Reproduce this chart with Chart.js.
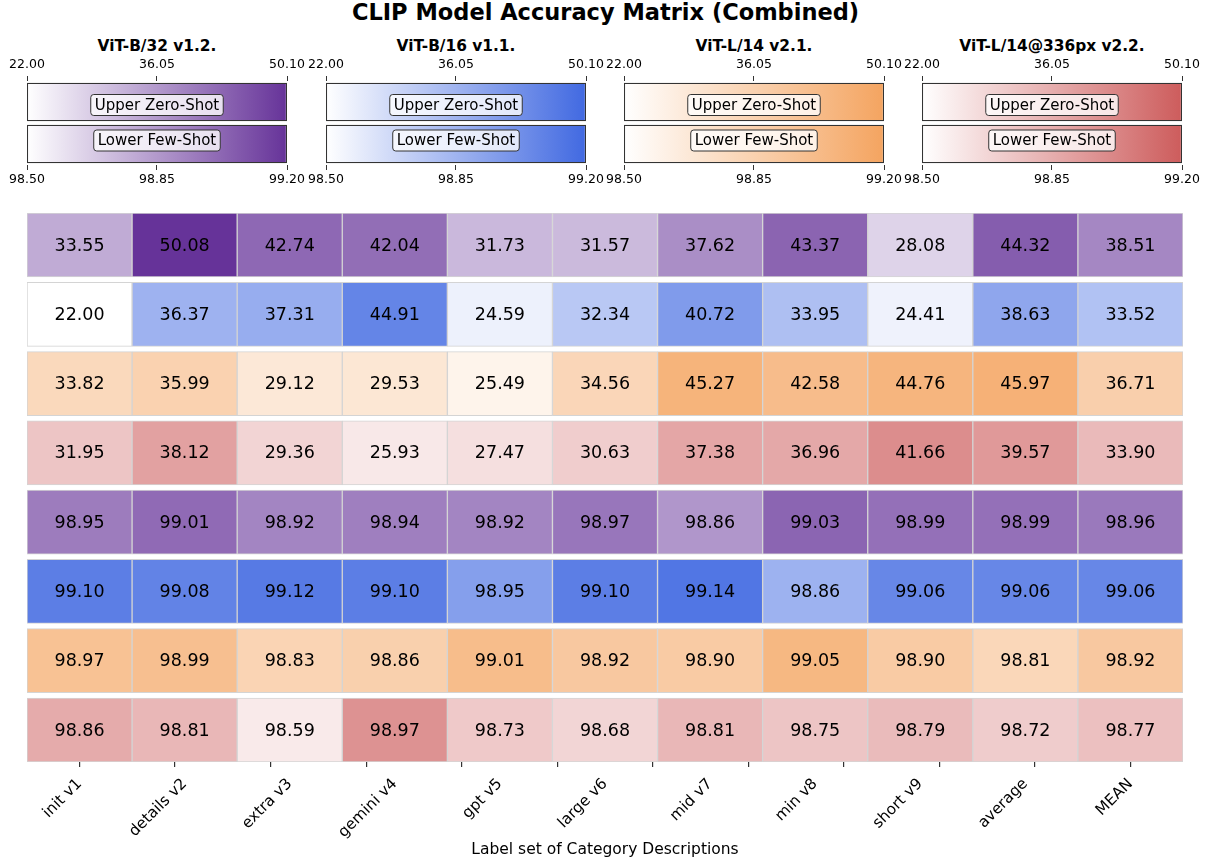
<!DOCTYPE html>
<html>
<head>
<meta charset="utf-8">
<script src="https://cdn.jsdelivr.net/npm/chart.js@4"></script>
<style>
  body { margin: 0; background: #fff; font-family: 'DejaVu Sans', sans-serif; }
  #page { position: relative; width: 1211px; height: 861px; overflow: hidden; }
  .title { position: absolute; left: 0; width: 1211px; top: -1px; text-align: center; font-weight: bold; font-size: 22.5px; }
  .cb-title { position: absolute; text-align: center; font-weight: bold; font-size: 15.4px; top: 37px; }
  canvas { position: absolute; }
</style>
</head>
<body>
<div id="page">
  <div class="title">CLIP Model Accuracy Matrix (Combined)</div>
</div>
<script>
// categories (x axis)
const columns = ['init v1', 'details v2', 'extra v3', 'gemini v4', 'gpt v5', 'large v6',
  'mid v7', 'min v8', 'short v9', 'average', 'MEAN'];

const models = ['ViT-B/32 v1.2.', 'ViT-B/16 v1.1.', 'ViT-L/14 v2.1.', 'ViT-L/14@336px v2.2.'];
const modelColors = ['#663399', '#4169E1', '#F4A460', '#CD5C5C'];

// zero-shot accuracy (upper rows)
const zeroB32 = [33.55, 50.08, 42.74, 42.04, 31.73, 31.57, 37.62, 43.37, 28.08, 44.32, 38.51];
const zeroB16 = [22.00, 36.37, 37.31, 44.91, 24.59, 32.34, 40.72, 33.95, 24.41, 38.63, 33.52];
const zeroL14 = [33.82, 35.99, 29.12, 29.53, 25.49, 34.56, 45.27, 42.58, 44.76, 45.97, 36.71];
const zeroL336 = [31.95, 38.12, 29.36, 25.93, 27.47, 30.63, 37.38, 36.96, 41.66, 39.57, 33.90];

// few-shot accuracy (lower rows)
const fewB32 = [98.95, 99.01, 98.92, 98.94, 98.92, 98.97, 98.86, 99.03, 98.99, 98.99, 98.96];
const fewB16 = [99.10, 99.08, 99.12, 99.10, 98.95, 99.10, 99.14, 98.86, 99.06, 99.06, 99.06];
const fewL14 = [98.97, 98.99, 98.83, 98.86, 99.01, 98.92, 98.90, 99.05, 98.90, 98.81, 98.92];
const fewL336 = [98.86, 98.81, 98.59, 98.97, 98.73, 98.68, 98.81, 98.75, 98.79, 98.72, 98.77];

// colorbar tick labels
const zeroShotTicks = [22.00, 36.05, 50.10];
const fewShotTicks = [98.50, 98.85, 99.20];
const colorbarLabels = ['Upper Zero-Shot', 'Lower Few-Shot'];

Chart.defaults.font.family = "'DejaVu Sans', sans-serif";
Chart.defaults.color = '#000';
Chart.defaults.animation = false;

const page = document.getElementById('page');

function hexToRgb(hex) {
  const n = parseInt(hex.slice(1), 16);
  return [(n >> 16) & 255, (n >> 8) & 255, n & 255];
}

// white -> model colour, linear
function cellColor(value, range, hex) {
  const lo = range[0], hi = range[range.length - 1];
  const t = Math.max(0, Math.min(1, (value - lo) / (hi - lo)));
  const c = hexToRgb(hex);
  const mix = c.map(v => Math.round(255 + (v - 255) * t));
  return `rgb(${mix[0]}, ${mix[1]}, ${mix[2]})`;
}

/* ---------- colorbars ---------- */
const barLefts = [27, 326, 624, 922];
const barWidth = 260;
const sidePad = 34;

const boxLabelPlugin = {
  id: 'boxLabels',
  afterDatasetsDraw(chart) {
    const ctx = chart.ctx;
    // labels sit slightly toward the gap between the two bars
    const nudge = [3, -3.5];
    ctx.save();
    ctx.font = "15px 'DejaVu Sans', sans-serif";
    ctx.textAlign = 'center';
    ctx.textBaseline = 'middle';
    chart.data.datasets.forEach((ds, i) => {
      const el = chart.getDatasetMeta(i).data[i];
      if (!el) return;
      const cx = (chart.chartArea.left + chart.chartArea.right) / 2;
      const cy = el.y + nudge[i];
      const w = ctx.measureText(colorbarLabels[i]).width + 8;
      const h = 21;
      ctx.beginPath();
      ctx.roundRect(cx - w / 2, cy - h / 2, w, h, 3);
      ctx.fillStyle = 'rgba(255,255,255,0.8)';
      ctx.fill();
      ctx.strokeStyle = '#333';
      ctx.lineWidth = 1;
      ctx.stroke();
      ctx.fillStyle = '#000';
      ctx.fillText(colorbarLabels[i], cx, cy + 1);
    });
    ctx.restore();
  }
};

models.forEach((name, m) => {
  const t = document.createElement('div');
  t.className = 'cb-title';
  t.style.left = (barLefts[m] - 40) + 'px';
  t.style.width = (barWidth + 80) + 'px';
  t.textContent = name;
  page.appendChild(t);

  const canvas = document.createElement('canvas');
  canvas.style.left = (barLefts[m] - sidePad) + 'px';
  canvas.style.top = '55px';
  canvas.width = barWidth + sidePad * 2;
  canvas.height = 135;
  canvas.style.width = canvas.width + 'px';
  canvas.style.height = canvas.height + 'px';
  page.appendChild(canvas);

  const gradient = (context) => {
    const area = context.chart.chartArea;
    if (!area) return modelColors[m];
    const g = context.chart.ctx.createLinearGradient(area.left, 0, area.right, 0);
    g.addColorStop(0, '#ffffff');
    g.addColorStop(1, modelColors[m]);
    return g;
  };

  const tickAxis = (position, ticks) => ({
    type: 'linear',
    position,
    min: ticks[0],
    max: ticks[ticks.length - 1],
    afterBuildTicks: (scale) => { scale.ticks = ticks.map(v => ({ value: v })); },
    afterFit: (scale) => { scale.height = position === 'top' ? 26 : 25; },
    ticks: {
      font: { size: 12.5 },
      padding: position === 'top' ? 4 : 2,
      maxRotation: 0,
      autoSkip: false,
      callback: (v) => Number(v).toFixed(2)
    },
    grid: { drawOnChartArea: false, drawTicks: true, tickLength: 5, color: '#333' },
    border: { display: false }
  });

  const barStyle = {
    backgroundColor: gradient,
    borderColor: '#333',
    borderWidth: 1.2,
    borderSkipped: false
  };

  new Chart(canvas, {
    type: 'bar',
    data: {
      labels: colorbarLabels,
      datasets: [
        { ...barStyle, xAxisID: 'x', data: [[zeroShotTicks[0], zeroShotTicks[2]], null] },
        { ...barStyle, xAxisID: 'x2', data: [null, [fewShotTicks[0], fewShotTicks[2]]] }
      ]
    },
    options: {
      indexAxis: 'y',
      responsive: false,
      grouped: false,
      barPercentage: 0.92,
      categoryPercentage: 1,
      layout: { padding: { left: sidePad, right: sidePad, top: 0, bottom: 0 } },
      plugins: { legend: { display: false }, tooltip: { enabled: false } },
      scales: {
        x: tickAxis('top', zeroShotTicks),
        x2: tickAxis('bottom', fewShotTicks),
        y: { display: false }
      }
    },
    plugins: [boxLabelPlugin]
  });
});

/* ---------- heatmap ---------- */
const rows = [
  { values: zeroB32, model: 0, range: zeroShotTicks },
  { values: zeroB16, model: 1, range: zeroShotTicks },
  { values: zeroL14, model: 2, range: zeroShotTicks },
  { values: zeroL336, model: 3, range: zeroShotTicks },
  { values: fewB32, model: 0, range: fewShotTicks },
  { values: fewB16, model: 1, range: fewShotTicks },
  { values: fewL14, model: 2, range: fewShotTicks },
  { values: fewL336, model: 3, range: fewShotTicks }
];
const rowGap = 0.038;

const cellTextPlugin = {
  id: 'cellText',
  afterDatasetsDraw(chart) {
    const ctx = chart.ctx;
    ctx.save();
    ctx.font = "17.5px 'DejaVu Sans', sans-serif";
    ctx.fillStyle = '#000';
    ctx.textAlign = 'center';
    ctx.textBaseline = 'middle';
    chart.data.datasets.forEach((ds, i) => {
      chart.getDatasetMeta(i).data.forEach((el, j) => {
        const p = el.getCenterPoint();
        ctx.fillText(rows[i].values[j].toFixed(2), p.x, p.y + 1);
      });
    });
    ctx.restore();
  }
};

const hm = document.createElement('canvas');
hm.style.left = '0px';
hm.style.top = '200px';
hm.width = 1211;
hm.height = 661;
hm.style.width = '1211px';
hm.style.height = '661px';
page.appendChild(hm);

new Chart(hm, {
  type: 'bar',
  data: {
    labels: columns,
    datasets: rows.map((row, r) => ({
      xAxisID: 'x',
      data: row.values.map(() => [r + rowGap, r + 1 - rowGap]),
      backgroundColor: row.values.map(v => cellColor(v, row.range, modelColors[row.model])),
      borderColor: '#d4d4d4',
      borderWidth: 1,
      borderSkipped: false
    }))
  },
  options: {
    responsive: false,
    grouped: false,
    barPercentage: 1,
    categoryPercentage: 1,
    layout: { padding: { left: 27, right: 28, top: 13, bottom: 0 } },
    plugins: { legend: { display: false }, tooltip: { enabled: false } },
    scales: {
      x: {
        weight: 1,
        afterFit: (scale) => { scale.height = 99; },
        ticks: { font: { size: 15.3 }, minRotation: 45, maxRotation: 45, autoSkip: false, padding: 5 },
        grid: { display: false },
        border: { display: false },
        title: {
          display: true,
          text: 'Label set of Category Descriptions',
          font: { size: 15.5 },
          padding: { top: 0, bottom: 2 }
        }
      },
      // zero-height axis that only draws the tick marks at column centres
      xMarks: {
        type: 'linear',
        position: 'bottom',
        weight: 0,
        min: -0.5,
        max: columns.length - 0.5,
        afterBuildTicks: (scale) => { scale.ticks = columns.map((c, i) => ({ value: i })); },
        afterFit: (scale) => { scale.height = 0; },
        ticks: { display: false },
        grid: { drawOnChartArea: false, drawTicks: true, tickLength: 5, color: '#333', lineWidth: 1.2 },
        border: { display: false }
      },
      y: { display: false, min: rowGap, max: 8 - rowGap, reverse: true }
    }
  },
  plugins: [cellTextPlugin]
});
</script>
</body>
</html>
